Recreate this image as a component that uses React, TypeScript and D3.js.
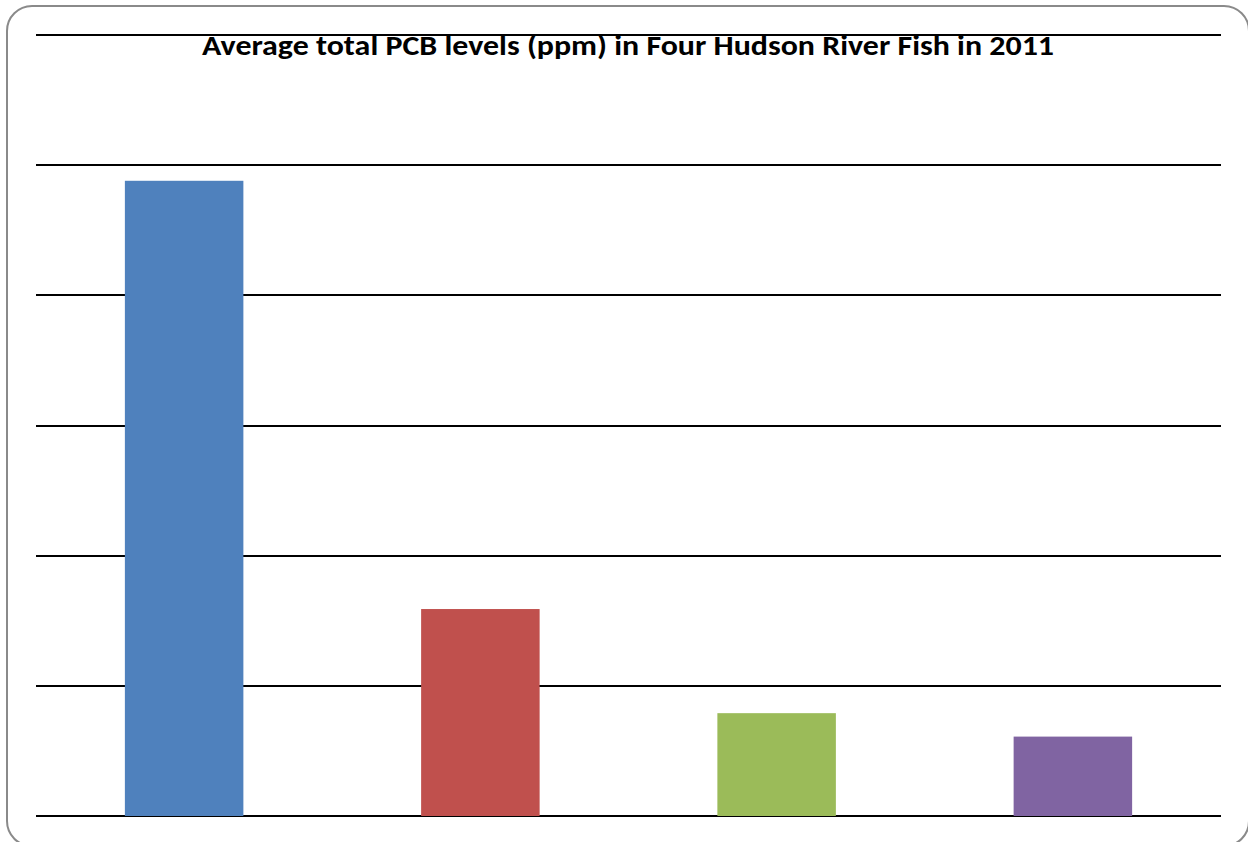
import React from "react";
import * as d3 from "d3";

const categories = ["Fish A", "Fish B", "Fish C", "Fish D"];
const values = [48.8, 15.9, 7.9, 6.1];
const colors = ["#4F81BD", "#C0504D", "#9BBB59", "#8064A2"];
const yTicks = [0, 10, 20, 30, 40, 50, 60];
const title = "Average total PCB levels (ppm) in Four Hudson River Fish in 2011";

const W = 1248;
const H = 842;
const plot = { left: 36, right: 1221, top: 35, bottom: 816 };

export default function App() {
  const x = d3
    .scaleBand<string>()
    .domain(categories)
    .range([plot.left, plot.right])
    .paddingInner(0.6)
    .paddingOuter(0.3);
  const y = d3.scaleLinear().domain([0, 60]).range([plot.bottom, plot.top]);

  return (
    <svg
      width={W}
      height={H}
      style={{ position: "absolute", left: 0, top: 0, display: "block" }}
    >
      <rect x={0} y={0} width={W} height={H} fill="#fff" />
      <rect
        x={7}
        y={6}
        width={1242}
        height={840}
        rx={25}
        ry={25}
        fill="#fff"
        stroke="#8a8a8a"
        strokeWidth={2}
      />
      {yTicks.map((t) => (
        <line
          key={t}
          x1={plot.left}
          x2={plot.right}
          y1={Math.round(y(t))}
          y2={Math.round(y(t))}
          stroke="#000"
          strokeWidth={2}
        />
      ))}
      {categories.map((c, i) => (
        <rect
          key={c}
          x={x(c)}
          y={y(values[i])}
          width={x.bandwidth()}
          height={y(0) - y(values[i])}
          fill={colors[i]}
        />
      ))}
      <text
        x={628}
        y={55}
        textAnchor="middle"
        fontFamily="Carlito, Calibri, 'Open Sans', sans-serif"
        fontWeight="bold"
        fontSize={29}
        textLength={852}
        lengthAdjust="spacingAndGlyphs"
        fill="#000"
      >
        {title}
      </text>
    </svg>
  );
}
